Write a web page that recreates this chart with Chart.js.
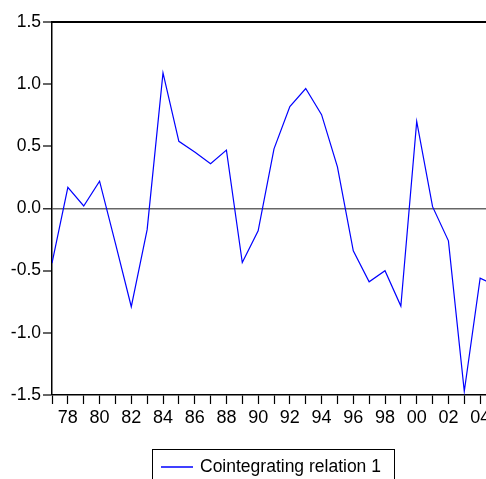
<!DOCTYPE html>
<html>
<head>
<meta charset="utf-8">
<script src="https://cdn.jsdelivr.net/npm/chart.js@4"></script>
<style>
	html, body { margin: 0; padding: 0; background: #fff; overflow: hidden; }
	#wrap { width: 486px; height: 479px; overflow: hidden; }
</style>
</head>
<body>
<div id="wrap"><canvas id="chart" width="512" height="479"></canvas></div>
<script>
// years of the sample
var years = [1977, 1978, 1979, 1980, 1981, 1982, 1983, 1984, 1985, 1986,
	1987, 1988, 1989, 1990, 1991, 1992, 1993, 1994, 1995, 1996,
	1997, 1998, 1999, 2000, 2001, 2002, 2003, 2004, 2005];

// cointegrating relation 1
var relation = [-0.44, 0.17, 0.02, 0.22, -0.28, -0.79, -0.17, 1.09, 0.54, 0.455,
	0.36, 0.47, -0.435, -0.18, 0.48, 0.82, 0.965, 0.755, 0.335, -0.34,
	-0.59, -0.50, -0.785, 0.70, 0.015, -0.26, -1.47, -0.56, -0.62];

var yTicks = [-1.5, -1.0, -0.5, 0.0, 0.5, 1.0, 1.5];

var seriesName = 'Cointegrating relation 1';
var font = '"Liberation Sans", Arial, sans-serif';

var points = [];
for (var i = 0; i < years.length; i++) {
	points.push({ x: years[i], y: relation[i] });
}

// top frame line + boxed legend like the EViews graph
var framePlugin = {
	id: 'frame',
	afterDraw: function (chart) {
		var ctx = chart.ctx;
		var area = chart.chartArea;
		ctx.save();
		ctx.strokeStyle = '#000';
		ctx.lineWidth = 2;
		ctx.beginPath();
		ctx.moveTo(area.left, area.top);
		ctx.lineTo(area.right, area.top);
		ctx.stroke();

		// legend
		var ds = chart.data.datasets[0];
		ctx.lineWidth = 1;
		ctx.strokeStyle = '#000';
		ctx.strokeRect(152.5, 449.5, 242, 40);
		ctx.strokeStyle = ds.borderColor;
		ctx.lineWidth = 1.5;
		ctx.beginPath();
		ctx.moveTo(161, 467);
		ctx.lineTo(193, 467);
		ctx.stroke();
		ctx.fillStyle = '#000';
		ctx.font = '17.5px ' + font;
		ctx.textBaseline = 'middle';
		ctx.textAlign = 'left';
		ctx.fillText(ds.label, 200, 467);
		ctx.restore();
	}
};

var ctx = document.getElementById('chart').getContext('2d');
var chart = new Chart(ctx, {
	type: 'line',
	data: {
		datasets: [{
			label: seriesName,
			data: points,
			borderColor: '#0000ff',
			borderWidth: 1.2,
			pointRadius: 0,
			tension: 0,
			fill: false
		}]
	},
	options: {
		responsive: false,
		animation: false,
		layout: { padding: { top: 22, right: 16, left: 0, bottom: 0 } },
		plugins: {
			legend: { display: false },
			tooltip: { enabled: false }
		},
		scales: {
			x: {
				type: 'linear',
				min: years[0],
				max: years[years.length - 1],
				afterFit: function (scale) { scale.height = 84; },
				afterBuildTicks: function (scale) {
					scale.ticks = years.map(function (y) { return { value: y }; });
				},
				ticks: {
					autoSkip: false,
					maxRotation: 0,
					padding: 3,
					color: '#000',
					font: { family: font, size: 18 },
					callback: function (value) {
						if (value % 2 !== 0) return '';
						return String(value).slice(2);
					}
				},
				grid: {
					drawOnChartArea: false,
					drawTicks: true,
					tickLength: 9,
					tickColor: '#000',
					tickWidth: 1.2
				},
				border: { display: true, color: '#000', width: 1.5 }
			},
			y: {
				min: yTicks[0],
				max: yTicks[yTicks.length - 1],
				afterFit: function (scale) { scale.width = 52; },
				afterBuildTicks: function (scale) {
					scale.ticks = yTicks.map(function (v) { return { value: v }; });
				},
				ticks: {
					padding: 2,
					color: '#000',
					font: { family: font, size: 17.5 },
					callback: function (value) { return Number(value).toFixed(1); }
				},
				grid: {
					drawOnChartArea: true,
					drawTicks: true,
					tickLength: 9,
					tickColor: '#000',
					tickWidth: 1.2,
					color: function (c) { return c.tick && c.tick.value === 0 ? '#666' : 'rgba(0,0,0,0)'; },
					lineWidth: function (c) { return c.tick && c.tick.value === 0 ? 1.6 : 0; }
				},
				border: { display: true, color: '#000', width: 1.5 }
			}
		}
	},
	plugins: [framePlugin]
});
</script>
</body>
</html>
